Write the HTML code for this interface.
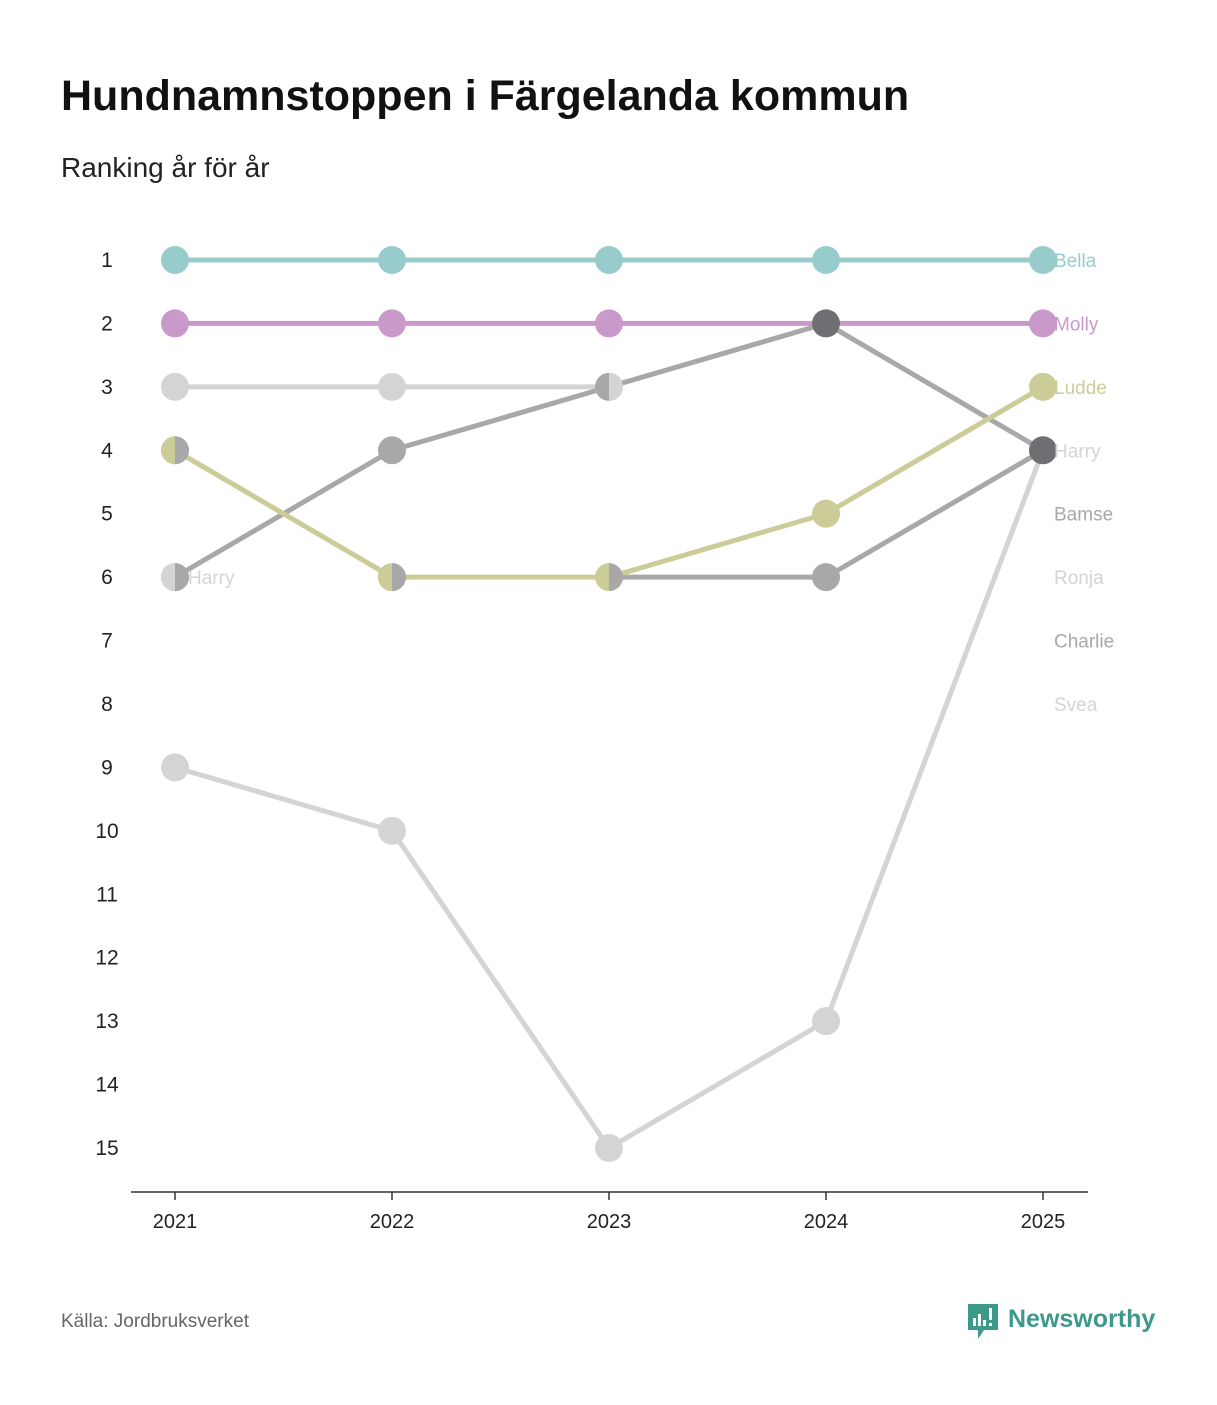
<!DOCTYPE html>
<html><head><meta charset="utf-8">
<style>
body{margin:0;background:#fff;width:1217px;height:1400px;overflow:hidden;font-family:"Liberation Sans",sans-serif}
svg text{font-family:"Liberation Sans",sans-serif}
</style></head><body>
<svg id="chart" width="1217" height="1400" xmlns="http://www.w3.org/2000/svg">
<text x="61" y="110" font-size="43" font-weight="bold" fill="#111">Hundnamnstoppen i Färgelanda kommun</text>
<text x="61" y="177" font-size="28" fill="#222">Ranking år för år</text>
<text x="61" y="1327" font-size="19" fill="#666">Källa: Jordbruksverket</text>
<g>
<path d="M968 1304h30v26h-14l-6 9v-9h-10z" fill="#3d9a8b"/>
<rect x="973" y="1318" width="3" height="8" fill="#fff"/><rect x="978" y="1314" width="3" height="12" fill="#fff"/><rect x="983" y="1320" width="3" height="6" fill="#fff"/><rect x="989" y="1308" width="3" height="12" fill="#fff"/><rect x="989" y="1323" width="3" height="3" fill="#fff"/>
<text x="1008" y="1327" font-size="25" font-weight="bold" fill="#3d9a8b">Newsworthy</text>
</g>
<g id="plot"></g>
</svg>
<script>
const years=[2021,2022,2023,2024,2025];
const rankTicks=[1,2,3,4,5,6,7,8,9,10,11,12,13,14,15];
const bella=[1,1,1,1,1];
const molly=[2,2,2,2,2];
const ludde=[4,6,6,5,3];
const bamse=[6,4,3,2,4];
const charlie=[null,null,6,6,4];
const ronja=[3,3,3,null,null];
const harry=[9,10,15,13,4];
const endLabels=["Bella","Molly","Ludde","Harry","Bamse","Ronja","Charlie","Svea"];
const endLabelRanks=[1,2,3,4,5,6,7,8];
const series=[
 {name:"ronja",vals:ronja,c:"#d4d4d4"},
 {name:"harry",vals:harry,c:"#d4d4d4"},
 {name:"charlie",vals:charlie,c:"#a8a8a8"},
 {name:"bamse",vals:bamse,c:"#a8a8a8"},
 {name:"ludde",vals:ludde,c:"#cccc99"},
 {name:"molly",vals:molly,c:"#c99ac9"},
 {name:"bella",vals:bella,c:"#98cccc"}];
const endColors=["#98cccc","#c99ac9","#cccc99","#d4d4d4","#a8a8a8","#d4d4d4","#a8a8a8","#d4d4d4"];
const x=i=>175+i*217;
const y=r=>260+(r-1)*(888/14);
const g=document.getElementById('plot');
const NS="http://www.w3.org/2000/svg";
function mk(t,a){const e=document.createElementNS(NS,t);for(const k in a)e.setAttribute(k,a[k]);g.appendChild(e);return e;}
let ax=mk('line',{x1:131,x2:1088,y1:1192,y2:1192,stroke:'#333','stroke-width':1.5});


years.forEach((yr,i)=>{
 let t=mk('line',{x1:x(i),x2:x(i),y1:1192,y2:1200,stroke:'#333','stroke-width':1.5});
 
 
 let l=mk('text',{x:x(i),y:1228,'font-size':20,fill:'#222','text-anchor':'middle'});l.textContent=yr;
 
 
});
rankTicks.forEach(r=>{
 let l=mk('text',{x:107,y:y(r)+7,'font-size':21,fill:'#222','text-anchor':'middle'});l.textContent=r;
 
 
});
series.forEach(s=>{
 let pts=[];s.vals.forEach((v,i)=>{if(v!=null)pts.push(x(i)+','+y(v));});
 let p=mk('polyline',{points:pts.join(' '),fill:'none',stroke:s.c,'stroke-width':5});
 
 
});
const groups={};
series.forEach(s=>s.vals.forEach((v,i)=>{if(v==null)return;const k=i+'-'+v;(groups[k]=groups[k]||[]).push(s);}));
const R=14;
function half(cx,cy,l,r){
 let a=mk('path',{d:`M${cx} ${cy-R}A${R} ${R} 0 0 0 ${cx} ${cy+R}Z`,fill:l});
 
 
 let b=mk('path',{d:`M${cx} ${cy-R}A${R} ${R} 0 0 1 ${cx} ${cy+R}Z`,fill:r});
 
 
}
for(const k in groups){
 const [i,v]=k.split('-').map(Number);const cx=x(i),cy=y(v);let gs=groups[k];
 const hasColor=gs.some(s=>s.c!="#a8a8a8"&&s.c!="#d4d4d4");
 if(gs.length==1){
  let c=mk('circle',{cx,cy,r:R,fill:gs[0].c});
  
  
 } else if(gs.length>=3 || (gs.some(s=>s.name=="bamse")&&gs.some(s=>s.name=="molly"))){
  let c=mk('circle',{cx,cy,r:R,fill:'#6e6e73'});
  
  
 } else {
  let left,right;
  if(hasColor){left=gs.find(s=>s.c!="#a8a8a8"&&s.c!="#d4d4d4").c;right="#a8a8a8";}
  else {left=gs[0].c;right=gs[1].c;}
  half(cx,cy,left,right);
 }
}
[[0,6,"#d4d4d4","#a8a8a8"],[2,3,"#a8a8a8","#d4d4d4"],[0,4,"#cccc99","#a8a8a8"],[1,6,"#cccc99","#a8a8a8"]].forEach(([i,v,l,r])=>half(x(i),y(v),l,r));
endLabels.forEach((n,j)=>{
 let t=mk('text',{x:1054,y:y(endLabelRanks[j])+7,'font-size':19,fill:endColors[j]});t.textContent=n;
 
 
});
let h=mk('text',{x:188,y:y(6)+7,'font-size':19,fill:'#d4d4d4'});h.textContent="Harry";


</script>
</body></html>
